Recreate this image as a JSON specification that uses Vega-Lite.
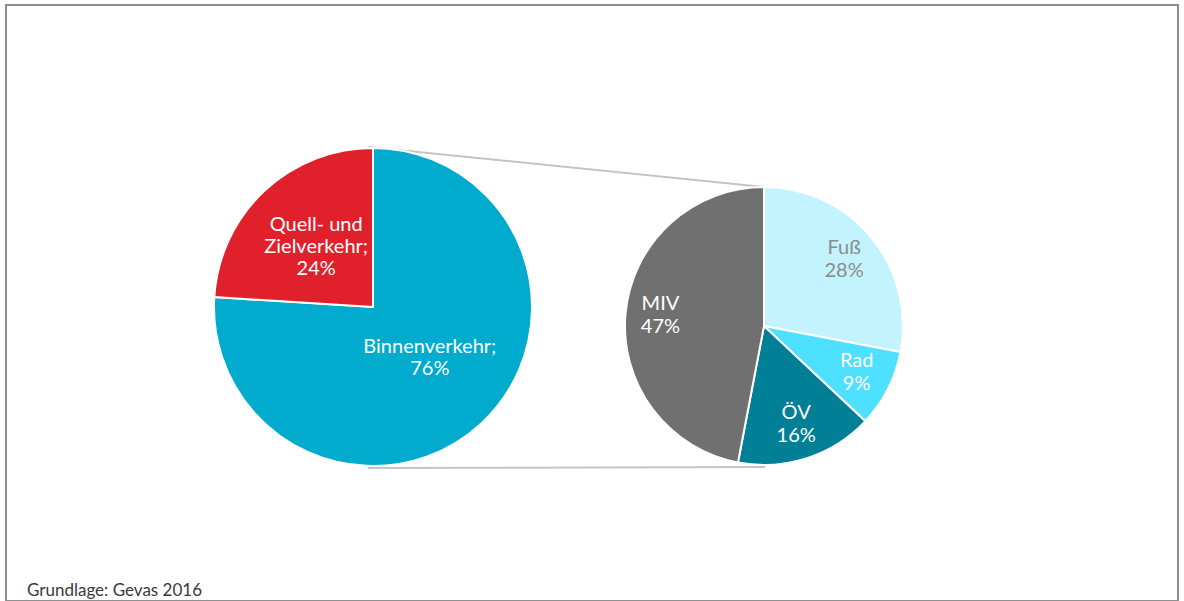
{
  "$schema": "https://vega.github.io/schema/vega-lite/v6.json",
  "width": 1172,
  "height": 596,
  "autosize": {"type": "none"},
  "padding": {"left": 6, "top": 5, "right": 6, "bottom": 0},
  "background": "white",
  "config": {"view": {"stroke": "#8f8f8f", "strokeWidth": 2}, "font": "Lato", "scale": {"pointPadding": 0}},
  "title": {"text": "Grundlage: Gevas 2016", "orient": "bottom", "anchor": "start", "frame": "group", "offset": -5, "dx": 21, "baseline": "alphabetic", "fontSize": 17, "fontWeight": "normal", "color": "#3a3a3a", "font": "Lato"},
  "data": {"values": [
    {"gruppe": "gesamt", "kategorie": "Binnenverkehr", "beschriftung": "Binnenverkehr;", "anteil": 76, "nr": 1},
    {"gruppe": "gesamt", "kategorie": "Quell- und Zielverkehr", "beschriftung": "Quell- und\nZielverkehr;", "anteil": 24, "nr": 2},
    {"gruppe": "Binnenverkehr", "kategorie": "Fuß", "beschriftung": "Fuß", "anteil": 28, "nr": 1},
    {"gruppe": "Binnenverkehr", "kategorie": "Rad", "beschriftung": "Rad", "anteil": 9, "nr": 2},
    {"gruppe": "Binnenverkehr", "kategorie": "ÖV", "beschriftung": "ÖV", "anteil": 16, "nr": 3},
    {"gruppe": "Binnenverkehr", "kategorie": "MIV", "beschriftung": "MIV", "anteil": 47, "nr": 4}
  ]},
  "transform": [{"calculate": "datum.beschriftung + '\\n' + datum.anteil + '%'", "as": "label"}],
  "layer": [
    {
      "data": {"values": [{}]},
      "mark": {"type": "rule", "color": "#c4c4c4", "strokeWidth": 2, "xOffset": -5, "x2Offset": 1, "yOffset": -160, "y2Offset": -139},
      "encoding": {
        "x": {"datum": "gesamt", "type": "nominal", "scale": {"type": "point", "domain": ["gesamt", "Binnenverkehr"], "range": [367, 758], "padding": 0}, "axis": null},
        "x2": {"datum": "Binnenverkehr"},
        "y": {"datum": "gesamt", "type": "nominal", "scale": {"type": "point", "domain": ["gesamt", "Binnenverkehr"], "range": [302, 321], "padding": 0}, "axis": null},
        "y2": {"datum": "Binnenverkehr"}
      }
    },
    {
      "data": {"values": [{}]},
      "mark": {"type": "rule", "color": "#c4c4c4", "strokeWidth": 2, "xOffset": -5, "x2Offset": 1, "yOffset": 161, "y2Offset": 141},
      "encoding": {
        "x": {"datum": "gesamt", "type": "nominal", "scale": {"type": "point"}, "axis": null},
        "x2": {"datum": "Binnenverkehr"},
        "y": {"datum": "gesamt", "type": "nominal", "scale": {"type": "point"}, "axis": null},
        "y2": {"datum": "Binnenverkehr"}
      }
    },
    {
      "transform": [{"filter": "datum.gruppe === 'gesamt'"}],
      "mark": {"type": "arc", "radius": 159, "stroke": "white", "strokeWidth": 2},
      "encoding": {
        "x": {"field": "gruppe", "type": "nominal", "scale": {"type": "point"}, "axis": null},
        "y": {"field": "gruppe", "type": "nominal", "scale": {"type": "point"}, "axis": null},
        "theta": {"field": "anteil", "type": "quantitative", "stack": true},
        "order": {"field": "nr", "type": "quantitative"},
        "color": {"field": "kategorie", "type": "nominal", "legend": null,
          "scale": {"domain": ["Binnenverkehr", "Quell- und Zielverkehr", "Fuß", "Rad", "ÖV", "MIV"],
                    "range": ["#00abcd", "#e0202a", "#c3f3fe", "#4ee0ff", "#007f96", "#707070"]}}
      }
    },
    {
      "transform": [{"filter": "datum.gruppe === 'gesamt'"}],
      "mark": {"type": "text", "radius": 83, "dy": -21, "fontSize": 20, "fontWeight": "normal", "lineHeight": 22, "lineBreak": "\n", "align": "center", "baseline": "middle"},
      "encoding": {
        "x": {"field": "gruppe", "type": "nominal", "scale": {"type": "point"}, "axis": null},
        "y": {"field": "gruppe", "type": "nominal", "scale": {"type": "point"}, "axis": null},
        "theta": {"field": "anteil", "type": "quantitative", "stack": true},
        "order": {"field": "nr", "type": "quantitative"},
        "detail": {"field": "kategorie", "type": "nominal"},
        "text": {"field": "label", "type": "nominal"},
        "fill": {"value": "white"}
      }
    },
    {
      "transform": [{"filter": "datum.gruppe === 'Binnenverkehr'"}],
      "mark": {"type": "arc", "radius": 139, "stroke": "white", "strokeWidth": 2},
      "encoding": {
        "x": {"field": "gruppe", "type": "nominal", "scale": {"type": "point"}, "axis": null},
        "y": {"field": "gruppe", "type": "nominal", "scale": {"type": "point"}, "axis": null},
        "theta": {"field": "anteil", "type": "quantitative", "stack": true},
        "order": {"field": "nr", "type": "quantitative"},
        "color": {"field": "kategorie", "type": "nominal", "legend": null}
      }
    },
    {
      "transform": [{"filter": "datum.gruppe === 'Binnenverkehr'"}],
      "mark": {"type": "text", "radius": 104, "dy": -12, "fontSize": 20, "fontWeight": "normal", "lineHeight": 23, "lineBreak": "\n", "align": "center", "baseline": "middle"},
      "encoding": {
        "x": {"field": "gruppe", "type": "nominal", "scale": {"type": "point"}, "axis": null},
        "y": {"field": "gruppe", "type": "nominal", "scale": {"type": "point"}, "axis": null},
        "theta": {"field": "anteil", "type": "quantitative", "stack": true},
        "order": {"field": "nr", "type": "quantitative"},
        "detail": {"field": "kategorie", "type": "nominal"},
        "text": {"field": "label", "type": "nominal"},
        "fill": {"condition": {"test": "datum.kategorie === 'Fuß'", "value": "#8c8c8c"}, "value": "white"}
      }
    }
  ]
}
